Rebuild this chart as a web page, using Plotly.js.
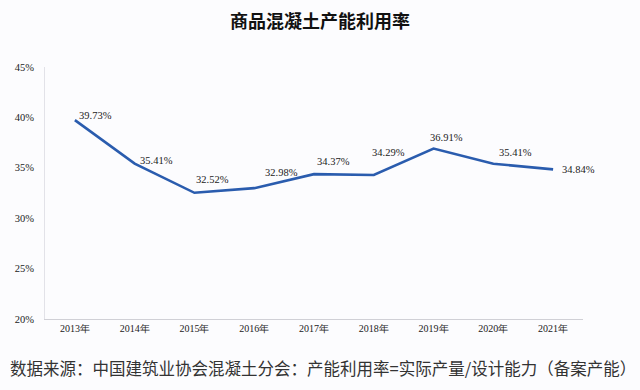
<!DOCTYPE html>
<html><head><meta charset="utf-8">
<script src="https://cdn.plot.ly/plotly-3.0.1.min.js"></script>
<style>html,body{margin:0;padding:0;background:#fcfcfe;}#c{width:640px;height:390px;}</style>
</head><body><div id="c"></div>
<script>
const years = ['2013年','2014年','2015年','2016年','2017年','2018年','2019年','2020年','2021年'];
const rates = [39.73, 35.41, 32.52, 32.98, 34.37, 34.29, 36.91, 35.41, 34.84];
const labels = rates.map(v => v.toFixed(2) + '%');
// label offsets (pixels) relative to each point
const labelDx = [2, 3, 0, 9, 1, -4, -6, 4, 7];
const labelDy = [5, 3, 13, 16, 13, 22, 11, 11, 0];

const serif = "Liberation Serif, Times New Roman, serif";
const trace = {
  x: years, y: rates, type: 'scatter', mode: 'lines',
  line: {color: '#2a5cae', width: 2.6},
  hoverinfo: 'none'
};
const annotations = years.map((yr, i) => ({
  x: yr, y: rates[i], xref: 'x', yref: 'y', text: labels[i], showarrow: false,
  xanchor: 'left', yanchor: 'middle', xshift: labelDx[i], yshift: labelDy[i],
  font: {family: serif, size: 10.5, color: '#222'}
}));
annotations.push({
  text: '数据来源：中国建筑业协会混凝土分会：产能利用率=实际产量/设计能力（备案产能）',
  xref: 'paper', yref: 'paper', x: -0.068, y: -0.193, xanchor: 'left', yanchor: 'middle', showarrow: false,
  font: {family: "Noto Sans CJK SC, sans-serif", size: 16.5, color: '#333'}
});
const layout = {
  width: 640, height: 390,
  margin: {l: 45, r: 57, t: 67, b: 71},
  paper_bgcolor: '#fcfcfe', plot_bgcolor: '#fcfcfe',
  showlegend: false,
  title: {text: '<b>商品混凝土产能利用率</b>', x: 0.5, xanchor: 'center', y: 0.945, yanchor: 'middle',
          font: {family: "Noto Sans CJK SC, sans-serif", size: 18, color: '#111'}},
  xaxis: {type: 'category', range: [-0.5, 8.5], showgrid: false, zeroline: false, showline: true, linecolor: '#d0d0d6', linewidth: 1,
          ticks: '', tickfont: {family: serif, size: 10, color: '#222'}},
  yaxis: {range: [20, 45], tickvals: [20,25,30,35,40,45], ticktext: ['20%','25%','30%','35%','40%','45%'],
          showgrid: false, zeroline: false, showline: true, linecolor: '#e2e2e8', linewidth: 1,
          ticks: '', ticklabelstandoff: 8,
          tickfont: {family: serif, size: 10.5, color: '#222'}},
  annotations: annotations
};
Plotly.newPlot('c', [trace], layout, {displayModeBar: false, staticPlot: true});
</script></body></html>
